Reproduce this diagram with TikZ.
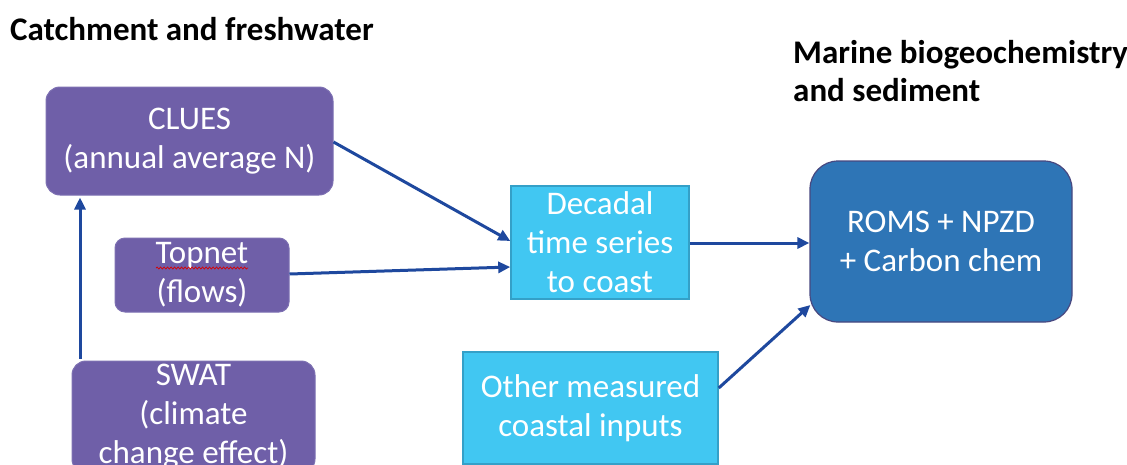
\documentclass[tikz,border=0pt]{standalone}
\usepackage{fontspec}
\setmainfont{Carlito}
\usetikzlibrary{arrows.meta,decorations.pathmorphing}

\definecolor{modpurple}{RGB}{111,95,168}
\definecolor{modpurpleedge}{RGB}{125,112,178}
\definecolor{datacyan}{RGB}{65,199,242}
\definecolor{datacyanedge}{RGB}{52,160,200}
\definecolor{oceanblue}{RGB}{46,117,182}
\definecolor{oceanedge}{RGB}{72,72,128}
\definecolor{flowblue}{RGB}{30,72,158}

\tikzset{
  boxtext/.style={font=\fontsize{33}{39}\selectfont, text=white, align=center, inner sep=0pt},
  modelbox/.style={boxtext, rectangle, rounded corners=14pt, fill=modpurple, draw=modpurpleedge, line width=1pt},
  databox/.style={boxtext, rectangle, fill=datacyan, draw=datacyanedge, line width=1.5pt},
  oceanbox/.style={boxtext, rectangle, rounded corners=28pt, fill=oceanblue, draw=oceanedge, line width=1.2pt},
  heading/.style={font=\fontsize{33}{38}\selectfont\bfseries, text=black, inner sep=0pt, anchor=base west},
  flow/.style={draw=flowblue, line width=3pt, -{Triangle[length=12pt,width=11pt]}}
}

\begin{document}
\begin{tikzpicture}[x=1pt,y=-1pt]
\useasboundingbox (0,0) rectangle (1127,464);
\clip (0,0) rectangle (1127,464);
\fill[white] (0,0) rectangle (1127,464);

% section headings
\node[heading] (hcatch) at (10,40) {Catchment and freshwater};
\node[heading] (hmar1) at (793,63) {Marine biogeochemistry};
\node[heading] (hmar2) at (793,101) {and sediment};

% catchment models
\node[modelbox, minimum width=287pt, minimum height=108pt] (clues) at (189.5,141) {CLUES\\(annual average N)};
\node[modelbox, rounded corners=10pt, minimum width=174pt, minimum height=74pt] (topnet) at (202,275) {Topnet\\(flows)};
\node[modelbox, minimum width=243pt, minimum height=112pt] (swat) at (193.5,417) {SWAT\\(climate\\change effect)};

% spell-check underline under "Topnet"
\draw[red!85!black, line width=0.7pt, decorate, decoration={snake, amplitude=1pt, segment length=3.5pt}]
  ([xshift=-46pt,yshift=7pt]topnet.center) -- ([xshift=46pt,yshift=7pt]topnet.center);

% coastal inputs
\node[databox, minimum width=178pt, minimum height=113pt] (decadal) at (600,242.5) {Decadal\\time series\\to coast};
\node[databox, minimum width=255pt, minimum height=112pt] (other) at (590.5,408) {Other measured\\coastal inputs};

% marine model
\node[oceanbox, minimum width=262pt, minimum height=161pt] (roms) at (941,241.5) {ROMS + NPZD\\+ Carbon chem};

% connectors (shifts are in page units: positive yshift moves up)
\draw[flow] ([yshift=-1pt]clues.east) -- ([yshift=1.5pt]decadal.west);
\draw[flow] ([yshift=1pt]topnet.east) -- ([yshift=-24.5pt]decadal.west);
\draw[flow] ([yshift=-0.5pt]decadal.east) -- ([yshift=-1.5pt]roms.west);
\draw[flow] ([yshift=20pt]other.east) -- ([xshift=1pt,yshift=-63.5pt]roms.west);
\draw[flow] ([xshift=-113.5pt,yshift=2pt]swat.north) -- ([xshift=-109.5pt,yshift=-2pt]clues.south);
\end{tikzpicture}
\end{document}
